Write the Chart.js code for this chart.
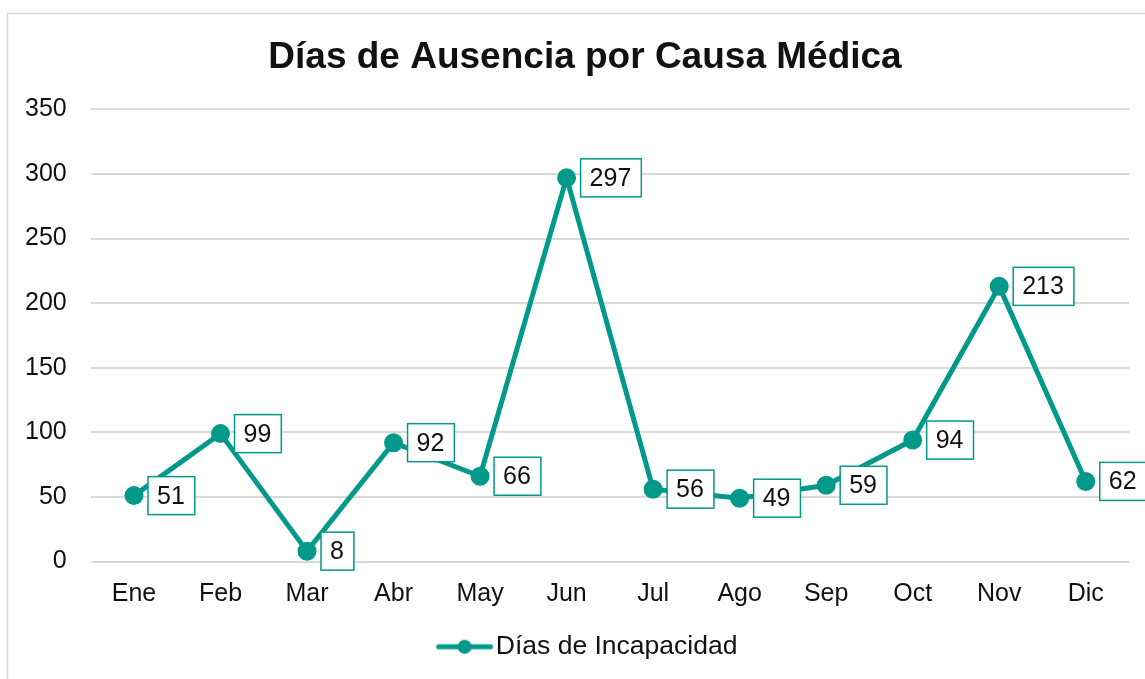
<!DOCTYPE html>
<html>
<head>
<meta charset="utf-8">
<script src="https://cdn.jsdelivr.net/npm/chart.js@4"></script>
<style>
  html, body { margin: 0; padding: 0; background: #fff; overflow: hidden; }
  #wrap { position: relative; width: 1145px; height: 679px; }
</style>
</head>
<body>
<div id="wrap"><canvas id="ausenciaChart" width="1145" height="679"></canvas></div>
<script>
// Datos del gráfico
const meses = ['Ene', 'Feb', 'Mar', 'Abr', 'May', 'Jun', 'Jul', 'Ago', 'Sep', 'Oct', 'Nov', 'Dic'];
const diasIncapacidad = [51, 99, 8, 92, 66, 297, 56, 49, 59, 94, 213, 62];
const ejeY = { min: 0, max: 350, step: 50 };

const TEAL = '#00998a';
const FONT = "'Liberation Sans', Arial, sans-serif";

// Icono de la leyenda: línea con punto
const legendIcon = document.createElement('canvas');
legendIcon.width = 80;
legendIcon.height = 16;
(function() {
    const c = legendIcon.getContext('2d');
    c.strokeStyle = TEAL;
    c.lineWidth = 5;
    c.lineCap = 'round';
    c.beginPath();
    c.moveTo(21, 8);
    c.lineTo(73, 8);
    c.stroke();
    c.fillStyle = TEAL;
    c.beginPath();
    c.arc(47, 8, 7, 0, Math.PI * 2);
    c.fill();
})();

// Borde exterior del área del gráfico
const outerBorder = {
    id: 'outerBorder',
    beforeDraw(chart) {
        const ctx = chart.ctx;
        ctx.save();
        ctx.fillStyle = '#fff';
        ctx.fillRect(0, 0, chart.width, chart.height);
        ctx.strokeStyle = '#d9d9d9';
        ctx.lineWidth = 1.5;
        ctx.strokeRect(7.5, 13.5, chart.width + 20, chart.height + 20);
        ctx.restore();
    }
};

// Título y leyenda centrados sobre todo el marco, no sólo sobre el área del eje
const centerBlocks = {
    id: 'centerBlocks',
    afterLayout(chart) {
        [chart.titleBlock, chart.legend].forEach(b => {
            if (!b) return;
            b.left += 40;
            b.width -= 40;
        });
    }
};

// Etiquetas de datos con recuadro
const boxLabels = {
    id: 'boxLabels',
    afterDatasetsDraw(chart) {
        const ctx = chart.ctx;
        const meta = chart.getDatasetMeta(0);
        ctx.save();
        ctx.font = '25px ' + FONT;
        ctx.textBaseline = 'middle';
        ctx.textAlign = 'left';
        meta.data.forEach((pt, i) => {
            const txt = String(diasIncapacidad[i]);
            const w = ctx.measureText(txt).width + 19;
            const h = 38;
            const x = pt.x + 14;
            const y = pt.y - h / 2;
            ctx.fillStyle = '#fff';
            ctx.fillRect(x, y, w, h);
            ctx.strokeStyle = TEAL;
            ctx.lineWidth = 1.5;
            ctx.strokeRect(x, y, w, h);
            ctx.fillStyle = '#111';
            ctx.fillText(txt, x + 9, pt.y + 1);
        });
        ctx.restore();
    }
};

new Chart(document.getElementById('ausenciaChart'), {
    type: 'line',
    data: {
        labels: meses,
        datasets: [{
            label: 'Días de Incapacidad',
            data: diasIncapacidad,
            borderColor: TEAL,
            backgroundColor: TEAL,
            borderWidth: 5,
            pointRadius: 7,
            pointHoverRadius: 7,
            pointBackgroundColor: TEAL,
            pointBorderColor: TEAL,
            tension: 0,
            fill: false
        }]
    },
    options: {
        responsive: false,
        animation: false,
        layout: { padding: { top: 14, left: 1, right: 16, bottom: 9 } },
        plugins: {
            title: {
                display: true,
                text: 'Días de Ausencia por Causa Médica',
                color: '#111',
                font: { family: FONT, size: 37, weight: 'bold' },
                padding: { top: 22, bottom: 29 }
            },
            legend: {
                position: 'bottom',
                labels: {
                    color: '#111',
                    font: { family: FONT, size: 26.5 },
                    usePointStyle: true,
                    pointStyle: legendIcon,
                    pointStyleWidth: 50,
                    padding: 14
                }
            },
            tooltip: { enabled: false }
        },
        scales: {
            x: {
                offset: true,
                grid: { display: false },
                border: { display: false },
                ticks: {
                    color: '#111',
                    font: { family: FONT, size: 25 },
                    padding: 10
                }
            },
            y: {
                min: ejeY.min,
                max: ejeY.max,
                grid: { color: '#d9d9d9', lineWidth: 2, drawTicks: false },
                border: { display: false },
                ticks: {
                    stepSize: ejeY.step,
                    color: '#111',
                    font: { family: FONT, size: 25 },
                    padding: 24
                }
            }
        }
    },
    plugins: [outerBorder, centerBlocks, boxLabels]
});
</script>
</body>
</html>
